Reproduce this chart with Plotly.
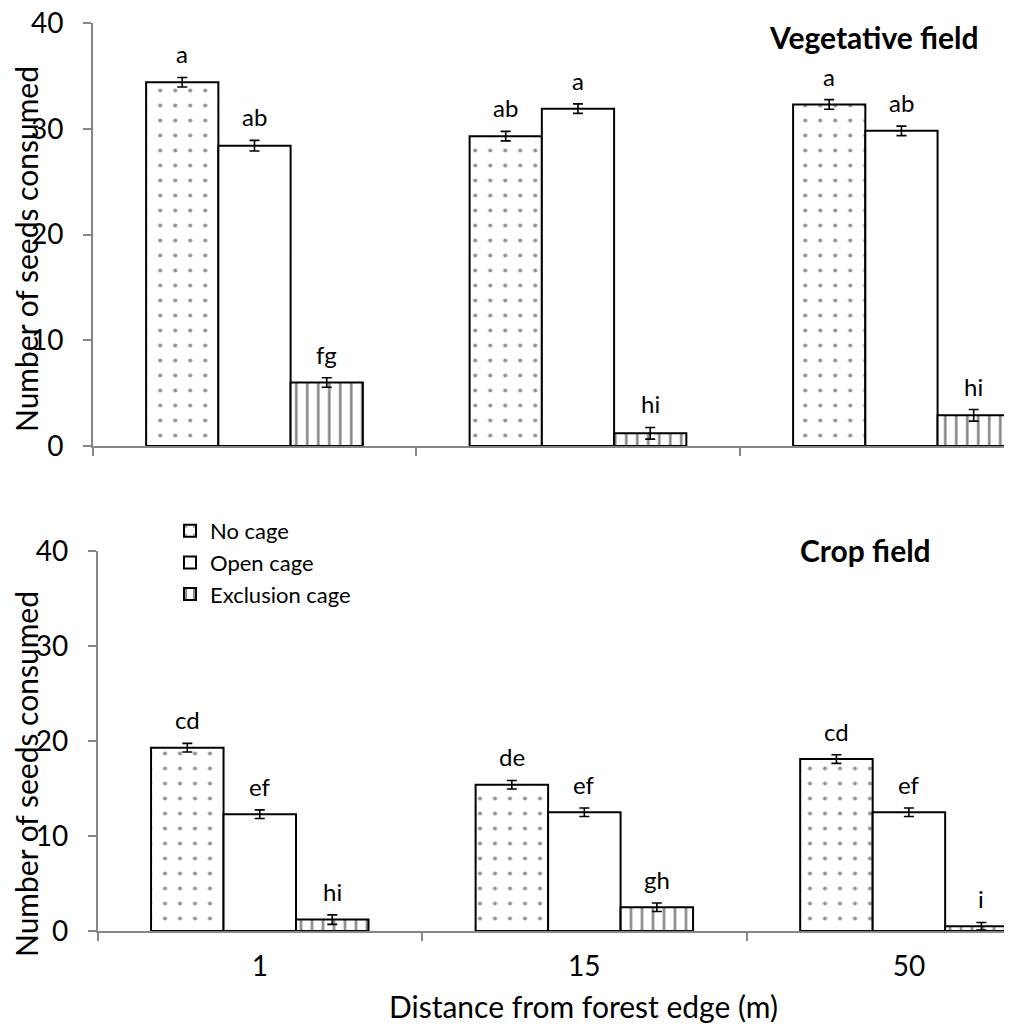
import plotly.graph_objects as go

# ---------------- data ----------------
distances = ["1", "15", "50"]
treatments = ["No cage", "Open cage", "Exclusion cage"]

veg_no_cage = [34.4, 29.3, 32.3]
veg_open_cage = [28.4, 31.9, 29.8]
veg_exclusion = [6.0, 1.2, 2.9]
veg_no_cage_se = [0.45, 0.45, 0.45]
veg_open_cage_se = [0.5, 0.45, 0.45]
veg_exclusion_se = [0.45, 0.55, 0.55]
veg_no_cage_letters = ["a", "ab", "a"]
veg_open_cage_letters = ["ab", "a", "ab"]
veg_exclusion_letters = ["fg", "hi", "hi"]

crop_no_cage = [19.3, 15.4, 18.1]
crop_open_cage = [12.3, 12.5, 12.5]
crop_exclusion = [1.2, 2.5, 0.5]
crop_no_cage_se = [0.45, 0.45, 0.45]
crop_open_cage_se = [0.45, 0.45, 0.45]
crop_exclusion_se = [0.5, 0.45, 0.4]
crop_no_cage_letters = ["cd", "de", "cd"]
crop_open_cage_letters = ["ef", "ef", "ef"]
crop_exclusion_letters = ["hi", "gh", "i"]

y_ticks = [0, 10, 20, 30, 40]

# ---------------- styling ----------------
W, H = 1013, 1032
FONT = "Lato"
AXIS_GRAY = "#868686"
BARGAP = 0.33
BAR_W = (1 - BARGAP) / 3

patterns = [
    dict(shape=".", size=15, solidity=0.06, fgcolor="#2a2a2a", bgcolor="white"),
    dict(shape="", bgcolor="white"),
    dict(shape="|", size=11, solidity=0.22, fgcolor="black", bgcolor="white"),
]

fig = go.Figure()

panels = [
    ("x", "y", [veg_no_cage, veg_open_cage, veg_exclusion],
     [veg_no_cage_se, veg_open_cage_se, veg_exclusion_se],
     [veg_no_cage_letters, veg_open_cage_letters, veg_exclusion_letters], False),
    ("x2", "y2", [crop_no_cage, crop_open_cage, crop_exclusion],
     [crop_no_cage_se, crop_open_cage_se, crop_exclusion_se],
     [crop_no_cage_letters, crop_open_cage_letters, crop_exclusion_letters], True),
]

annotations = []
for xa, ya, series, errs, letters, show in panels:
    for j, (name, vals, se, lab) in enumerate(zip(treatments, series, errs, letters)):
        fig.add_trace(go.Bar(
            x=distances, y=vals, name=name, xaxis=xa, yaxis=ya,
            showlegend=show,
            marker=dict(color="white", line=dict(color="black", width=2),
                        pattern=patterns[j]),
            error_y=dict(type="data", array=se, color="black", thickness=1.6, width=5),
        ))
        for i, (v, e, t) in enumerate(zip(vals, se, lab)):
            annotations.append(dict(
                x=i + (j - 1) * BAR_W, y=v + e, xref=xa, yref=ya,
                text=t, showarrow=False, xanchor="center", yanchor="bottom",
                yshift=7, font=dict(family=FONT, size=24, color="black"),
            ))

def px_x(p):
    return p / W

def px_y(p):
    return 1 - p / H

annotations += [
    dict(text="<b>Vegetative field</b>", x=px_x(874), y=px_y(37), xref="paper", yref="paper",
         showarrow=False, xanchor="center", yanchor="middle",
         font=dict(family=FONT, size=30, color="black")),
    dict(text="<b>Crop field</b>", x=px_x(865), y=px_y(550), xref="paper", yref="paper",
         showarrow=False, xanchor="center", yanchor="middle",
         font=dict(family=FONT, size=30, color="black")),
    dict(text="Number of seeds consumed", x=px_x(26), y=px_y(249), xref="paper", yref="paper",
         showarrow=False, textangle=-90, xanchor="center", yanchor="middle",
         font=dict(family=FONT, size=30, color="black")),
    dict(text="Number of seeds consumed", x=px_x(26), y=px_y(774), xref="paper", yref="paper",
         showarrow=False, textangle=-90, xanchor="center", yanchor="middle",
         font=dict(family=FONT, size=30, color="black")),
    dict(text="Distance from forest edge (m)", x=px_x(583), y=px_y(1006), xref="paper", yref="paper",
         showarrow=False, xanchor="center", yanchor="middle",
         font=dict(family=FONT, size=30, color="black")),
]

xcommon = dict(type="category", showline=True, linecolor=AXIS_GRAY, linewidth=1.5,
               ticks="outside", tickson="boundaries", ticklen=8, tickwidth=1.5,
               tickcolor=AXIS_GRAY, showgrid=False, zeroline=False, fixedrange=True,
               automargin=False,
               tickfont=dict(family=FONT, size=28, color="black"))
ycommon = dict(range=[0, 40], tickvals=y_ticks, showline=True, linecolor=AXIS_GRAY,
               linewidth=1.5, ticks="outside", ticklen=8, tickwidth=1.5,
               tickcolor=AXIS_GRAY, showgrid=False, zeroline=False,
               ticklabelstandoff=14, automargin=False,
               tickfont=dict(family=FONT, size=28, color="black"))

fig.update_layout(
    width=W, height=H,
    margin=dict(l=0, r=0, t=0, b=0, autoexpand=False),
    paper_bgcolor="white", plot_bgcolor="white",
    barmode="group", bargap=BARGAP, bargroupgap=0,
    font=dict(family=FONT, color="black"),
    xaxis=dict(domain=[px_x(92.75), px_x(1004)], anchor="y",
               range=[-0.5, 2.317], showticklabels=False, **xcommon),
    yaxis=dict(domain=[px_y(446), px_y(23)], anchor="x", **ycommon),
    xaxis2=dict(domain=[px_x(97.5), px_x(1004)], anchor="y2",
                range=[-0.5, 2.293], showticklabels=True, ticklabelstandoff=10, **xcommon),
    yaxis2=dict(domain=[px_y(931), px_y(551)], anchor="x2", **ycommon),
    legend=dict(x=px_x(170), y=px_y(510), xanchor="left", yanchor="top",
                bgcolor="rgba(0,0,0,0)", traceorder="normal",
                font=dict(family=FONT, size=22, color="black"),
                itemwidth=30, tracegroupgap=0),
    annotations=annotations,
)

fig.write_html("out.html")
